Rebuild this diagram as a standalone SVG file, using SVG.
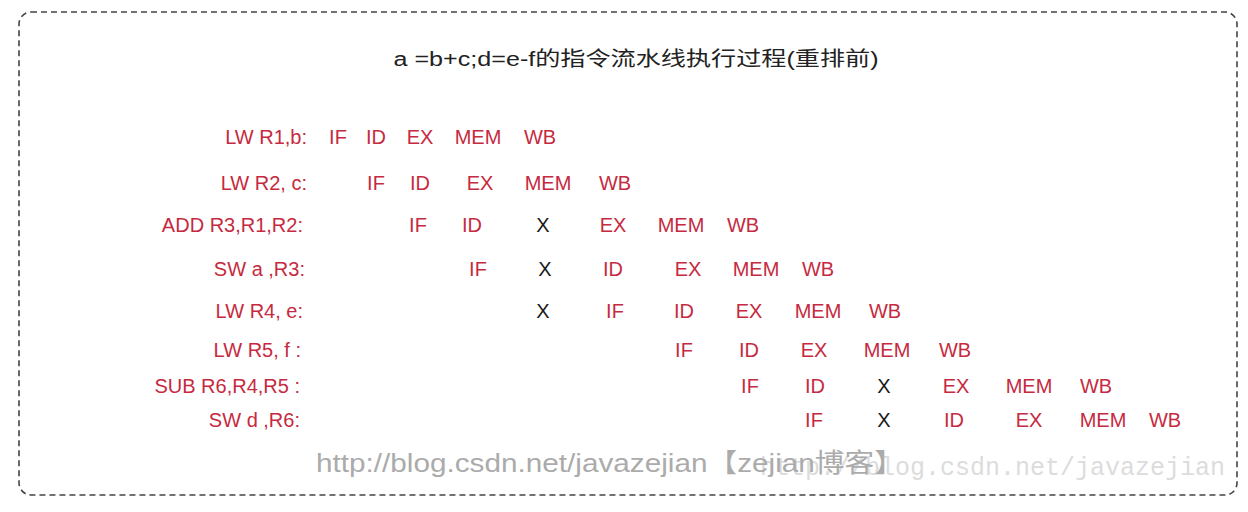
<svg xmlns="http://www.w3.org/2000/svg" width="1248" height="512" viewBox="0 0 1248 512">
<style>
.t{font-family:"Liberation Sans","Noto Sans CJK SC",sans-serif;}
.lbl{font-family:"Liberation Sans",sans-serif;font-size:20px;fill:#c62a40;text-anchor:end;}
.s{font-family:"Liberation Sans",sans-serif;font-size:20px;fill:#c62a40;text-anchor:middle;}
.x{font-family:"Liberation Sans",sans-serif;font-size:20px;fill:#1a1a1a;text-anchor:middle;}
</style>
<rect width="1248" height="512" fill="#ffffff"/>
<rect x="19" y="12" width="1218" height="483" rx="12" ry="12" fill="none" stroke="#444" stroke-width="1.6" stroke-dasharray="6,4"/>
<text class="t" x="636" y="66" font-size="20" fill="#222" text-anchor="middle" textLength="485" lengthAdjust="spacingAndGlyphs">a =b+c;d=e-f的指令流水线执行过程(重排前)</text>
<g id="row1">
<text class="lbl" x="307" y="144">LW R1,b:</text>
<text class="s" x="338" y="144">IF</text><text class="s" x="376" y="144">ID</text><text class="s" x="420" y="144">EX</text><text class="s" x="478" y="144">MEM</text><text class="s" x="540" y="144">WB</text>
</g>
<g id="row2">
<text class="lbl" x="307" y="190">LW R2, c:</text>
<text class="s" x="376" y="190">IF</text><text class="s" x="420" y="190">ID</text><text class="s" x="480" y="190">EX</text><text class="s" x="548" y="190">MEM</text><text class="s" x="615" y="190">WB</text>
</g>
<g id="row3">
<text class="lbl" x="303" y="232">ADD R3,R1,R2:</text>
<text class="s" x="418" y="232">IF</text><text class="s" x="472" y="232">ID</text><text class="x" x="543" y="232">X</text><text class="s" x="613" y="232">EX</text><text class="s" x="681" y="232">MEM</text><text class="s" x="743" y="232">WB</text>
</g>
<g id="row4">
<text class="lbl" x="305" y="276">SW a ,R3:</text>
<text class="s" x="478" y="276">IF</text><text class="x" x="545" y="276">X</text><text class="s" x="613" y="276">ID</text><text class="s" x="688" y="276">EX</text><text class="s" x="756" y="276">MEM</text><text class="s" x="818" y="276">WB</text>
</g>
<g id="row5">
<text class="lbl" x="303" y="318">LW R4, e:</text>
<text class="x" x="543" y="318">X</text><text class="s" x="615" y="318">IF</text><text class="s" x="684" y="318">ID</text><text class="s" x="749" y="318">EX</text><text class="s" x="818" y="318">MEM</text><text class="s" x="885" y="318">WB</text>
</g>
<g id="row6">
<text class="lbl" x="301" y="357">LW R5, f :</text>
<text class="s" x="684" y="357">IF</text><text class="s" x="749" y="357">ID</text><text class="s" x="814" y="357">EX</text><text class="s" x="887" y="357">MEM</text><text class="s" x="955" y="357">WB</text>
</g>
<g id="row7">
<text class="lbl" x="300" y="393">SUB R6,R4,R5 :</text>
<text class="s" x="750" y="393">IF</text><text class="s" x="815" y="393">ID</text><text class="x" x="884" y="393">X</text><text class="s" x="956" y="393">EX</text><text class="s" x="1029" y="393">MEM</text><text class="s" x="1096" y="393">WB</text>
</g>
<g id="row8">
<text class="lbl" x="300" y="427">SW d ,R6:</text>
<text class="s" x="814" y="427">IF</text><text class="x" x="884" y="427">X</text><text class="s" x="954" y="427">ID</text><text class="s" x="1029" y="427">EX</text><text class="s" x="1103" y="427">MEM</text><text class="s" x="1165" y="427">WB</text>
</g>
<g id="watermark">
<text x="760" y="475" font-family="Liberation Mono,monospace" font-size="25" fill="#dcdcdc" textLength="465" lengthAdjust="spacingAndGlyphs">http://blog.csdn.net/javazejian</text>
<text class="t" x="316" y="472" font-size="26" fill="#ababab" textLength="588" lengthAdjust="spacingAndGlyphs">http://blog.csdn.net/javazejian【zejian博客】</text>
</g>
</svg>
